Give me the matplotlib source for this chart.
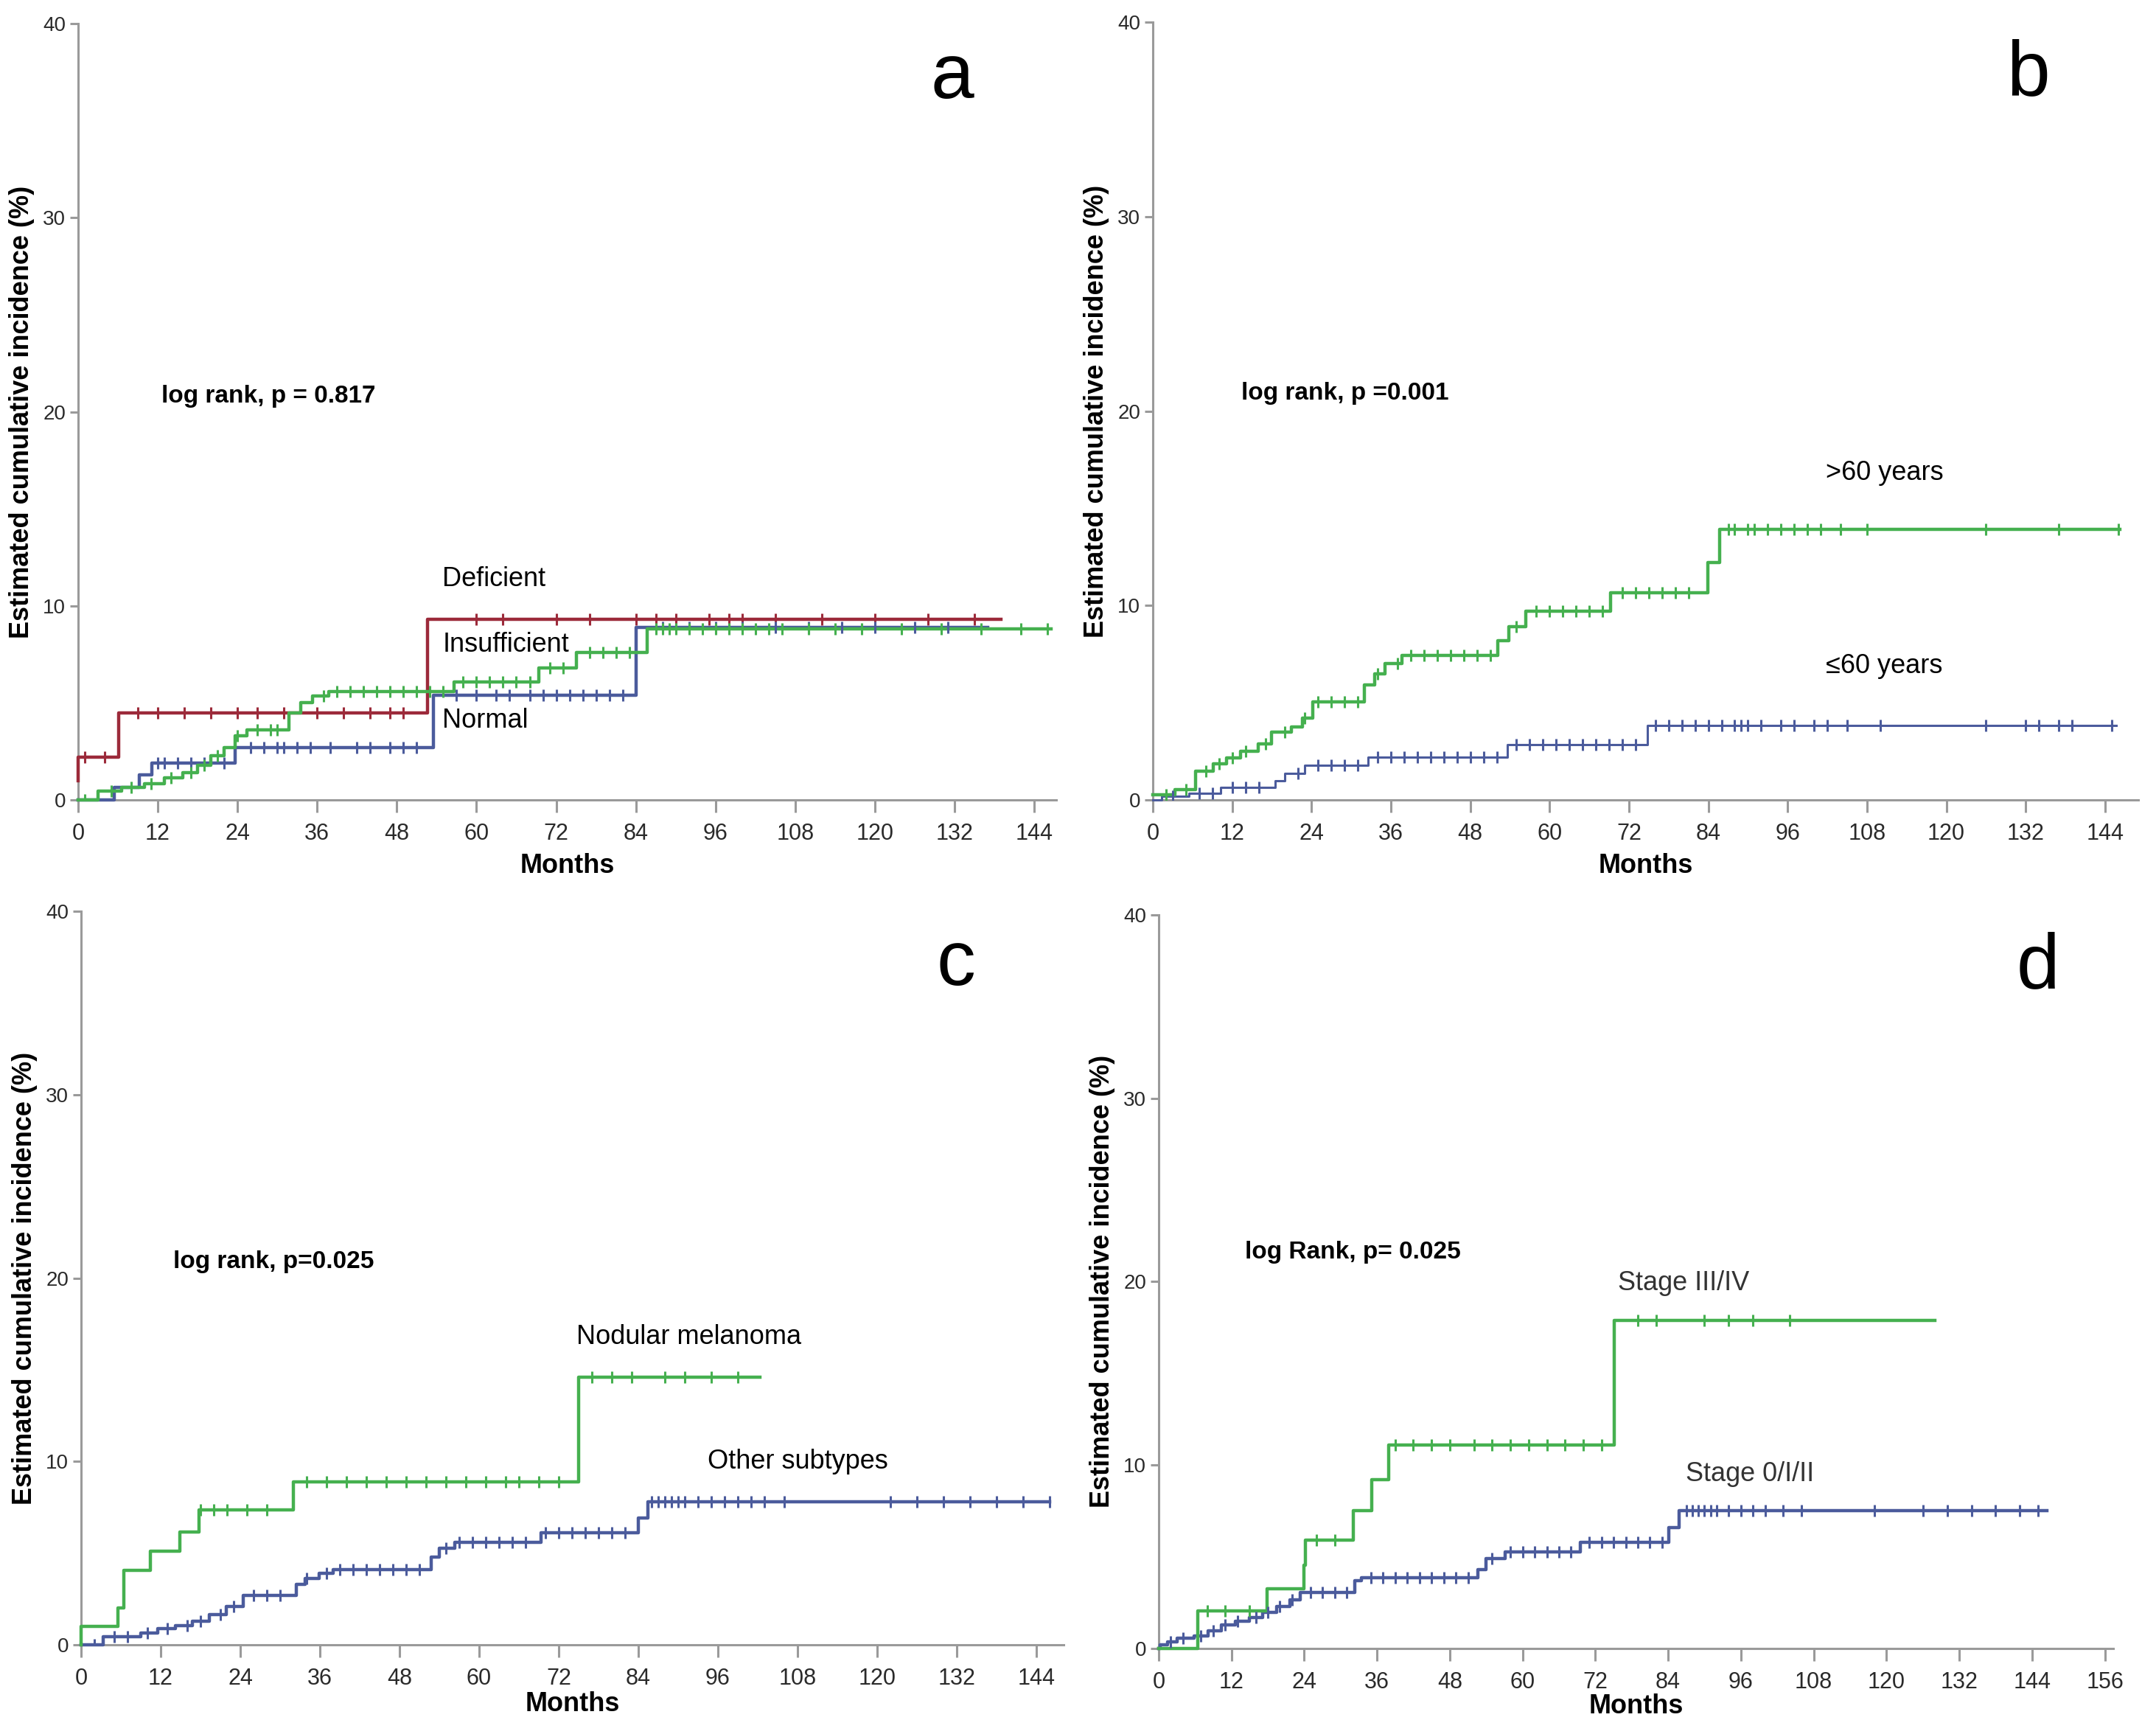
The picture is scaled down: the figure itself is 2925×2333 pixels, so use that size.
import numpy as np
import matplotlib
matplotlib.use("Agg")
from matplotlib import pyplot as plt

plt.rcParams['font.family'] = ['Liberation Sans', 'DejaVu Sans']

RED = '#9c2a3a'
BLUE = '#4b5b9c'
GREEN = '#45b04f'
AXIS_GRAY = '#9a9a9a'

# ---- panel a : vitamin D status ----
a_def_t = [0, 0, 6.1, 52.6]
a_def_y = [1.0, 2.2, 4.5, 9.3]
a_def_end = 139
a_def_cens = [1, 4, 9, 12, 16, 20, 24, 27, 31, 36, 40, 44, 47, 49, 60, 64, 72,
              77, 84, 87, 90, 95, 98, 100, 105, 112, 120, 128, 135]

a_ins_t = [0, 3, 6.6, 10, 13, 15.8, 18, 20, 22, 23.6, 25.4, 31.8, 33.5, 35.3,
           37.8, 56.6, 69.4, 75, 85.7]
a_ins_y = [0, 0.45, 0.65, 0.85, 1.15, 1.4, 1.8, 2.3, 2.7, 3.3, 3.6, 4.5, 5.0,
           5.35, 5.6, 6.1, 6.8, 7.6, 8.8]
a_ins_end = 146.5
a_ins_cens = [1, 5, 8, 11, 14, 17, 19, 21, 24, 27, 29, 30, 37, 39, 41, 43, 45,
              47, 49, 51, 53, 55, 58, 60, 62, 64, 66, 68, 71, 73, 77, 79, 81,
              83, 87, 88, 89, 90, 92, 94, 96, 98, 100, 102, 104, 106, 110, 114,
              118, 124, 130, 136, 142, 146]

a_norm_t = [0, 5.4, 9.2, 11.1, 23.6, 53.5, 84.0]
a_norm_y = [0, 0.65, 1.3, 1.9, 2.7, 5.4, 8.9]
a_norm_end = 137
a_norm_cens = [12, 13, 15, 17, 19, 22, 26, 28, 30, 31, 33, 35, 38, 42, 44, 47,
               49, 51, 57, 60, 63, 65, 68, 70, 72, 74, 76, 78, 80, 82, 88, 92,
               96, 100, 105, 110, 115, 120, 126, 131]

# ---- panel b : age ----
b_old_t = [0, 3.4, 6.5, 9.1, 11.2, 13.3, 15.9, 18, 21, 22.6, 24.2, 32, 33.5,
           35.1, 37.7, 52.2, 53.8, 56.4, 69.2, 83.9, 85.7]
b_old_y = [0.25, 0.55, 1.5, 1.85, 2.15, 2.5, 2.9, 3.5, 3.75, 4.2, 5.05, 5.9,
           6.5, 7.0, 7.45, 8.2, 8.9, 9.7, 10.65, 12.2, 13.9]
b_old_end = 146.2
b_old_cens = [2, 5, 8, 10, 12, 14, 17, 20, 23, 25, 27, 29, 31, 34, 37, 39, 41,
              43, 45, 47, 49, 51, 55, 58, 60, 62, 64, 66, 68, 71, 73, 75, 77,
              79, 81, 87, 88, 90, 91, 93, 95, 97, 99, 101, 104, 108, 126, 137,
              146]

b_young_t = [0, 1.3, 5.5, 10.2, 18.5, 20, 23, 32.5, 53.6, 74.8]
b_young_y = [0, 0.2, 0.35, 0.65, 1.0, 1.35, 1.8, 2.2, 2.85, 3.85]
b_young_end = 145.7
b_young_cens = [3, 7, 9, 12, 14, 16, 22, 25, 27, 29, 31, 34, 36, 38, 40, 42,
                44, 46, 48, 50, 52, 55, 57, 59, 61, 63, 65, 67, 69, 71, 73, 76,
                78, 80, 82, 84, 86, 88, 89, 90, 92, 95, 97, 100, 102, 105, 110,
                126, 132, 134, 137, 139, 145]

# ---- panel c : histologic subtype ----
c_nod_t = [0, 0, 5.6, 6.4, 10.5, 14.9, 17.8, 32, 75]
c_nod_y = [0, 1.0, 2.0, 4.05, 5.1, 6.15, 7.35, 8.9, 14.6]
c_nod_end = 102.3
c_nod_cens = [18, 20, 22, 25, 28, 34, 37, 40, 43, 46, 49, 52, 55, 58, 61, 64,
              66, 69, 72, 77, 80, 83, 88, 91, 95, 99]

c_oth_t = [0, 3.3, 9, 11.6, 14.2, 16.8, 19.3, 21.9, 24.5, 32.5, 33.8, 35.9, 38,
           52.8, 54, 56.3, 69.3, 84, 85.5]
c_oth_y = [0, 0.45, 0.65, 0.9, 1.05, 1.3, 1.65, 2.1, 2.7, 3.3, 3.6, 3.9, 4.1,
           4.8, 5.25, 5.6, 6.1, 6.9, 7.8]
c_oth_end = 146
c_oth_cens = [2, 5, 7, 10, 13, 16, 18, 21, 23, 26, 28, 30, 34, 37, 39, 41, 43,
              45, 47, 49, 51, 55, 57, 59, 61, 63, 65, 67, 70, 72, 74, 76, 78,
              80, 82, 86, 87, 88, 89, 90, 91, 93, 95, 97, 99, 101, 103, 106,
              122, 126, 130, 134, 138, 142, 146]

# ---- panel d : stage ----
d_adv_t = [0, 6.4, 17.9, 23.9, 24.2, 32.1, 35.1, 37.9, 75.1]
d_adv_y = [0, 2.05, 3.25, 4.55, 5.9, 7.5, 9.2, 11.1, 17.9]
d_adv_end = 128
d_adv_cens = [8, 11, 15, 26, 29, 39, 42, 45, 48, 52, 55, 58, 61, 64, 67, 70,
              73, 79, 82, 90, 94, 98, 104]

d_early_t = [0, 0.3, 1.5, 3, 5.9, 8.1, 10.4, 12.6, 14.9, 17.1, 19.4, 21.6,
             23.3, 32.3, 33.4, 52.6, 54, 57.1, 69.5, 84.1, 85.8]
d_early_y = [0, 0.18, 0.35, 0.55, 0.7, 0.95, 1.3, 1.5, 1.7, 1.95, 2.3, 2.65,
             3.05, 3.7, 3.85, 4.3, 4.9, 5.25, 5.8, 6.6, 7.5]
d_early_end = 146.4
d_early_cens = [2, 4, 7, 9, 11, 13, 16, 18, 20, 22, 25, 27, 29, 31, 35, 37,
                39, 41, 43, 45, 47, 49, 51, 55, 58, 60, 62, 64, 66, 68, 71, 73,
                75, 77, 79, 81, 83, 87, 88, 89, 90, 91, 92, 94, 96, 98, 100,
                103, 106, 118, 126, 130, 134, 138, 142, 145]


def draw_curve(ax, times, values, end, censored, color, lw=1.6):
  """Step curve of a cumulative incidence estimate with censoring ticks."""
  t = np.append(times, end)
  y = np.append(values, values[-1])
  ax.step(t, y, where='post', color=color, lw=lw, clip_on=False, zorder=3)
  cens = np.asarray(censored, dtype=float)
  idx = np.searchsorted(np.asarray(times, dtype=float), cens, side='right') - 1
  ax.plot(cens, np.asarray(values)[idx], ls='none', marker='|',
          markersize=6, mew=1.1, color=color, zorder=4)


def style_axes(ax, xmax, xticks, xlabelpad=4):
  ax.set_xlim(0, xmax)
  ax.set_ylim(0, 40)
  ax.set_xticks(xticks)
  ax.set_yticks([0, 10, 20, 30, 40])
  for side in ('top', 'right'):
    ax.spines[side].set_visible(False)
  for side in ('left', 'bottom'):
    ax.spines[side].set_color(AXIS_GRAY)
    ax.spines[side].set_linewidth(1.1)
  ax.tick_params(axis='both', colors=AXIS_GRAY, labelcolor='#2a2a2a',
                 width=1.1)
  ax.tick_params(axis='x', length=6, pad=5, labelsize=11)
  ax.tick_params(axis='y', length=4, pad=2, labelsize=10)
  for lab in ax.get_xticklabels():
    lab.set_family(['Liberation Sans Narrow', 'Liberation Sans'])
  ax.set_xlabel('Months', fontsize=13, fontweight='bold', labelpad=xlabelpad)
  ax.set_ylabel('Estimated cumulative incidence (%)', fontsize=13,
                fontweight='bold', labelpad=4)


fig = plt.figure(figsize=(14.625, 11.665), dpi=200)

ticks144 = list(range(0, 145, 12))
ticks156 = list(range(0, 157, 12))

# panel a
ax = fig.add_axes([0.0362, 0.5349, 0.4537, 0.4513])
style_axes(ax, 147.3, ticks144)
draw_curve(ax, a_def_t, a_def_y, a_def_end, a_def_cens, RED)
draw_curve(ax, a_norm_t, a_norm_y, a_norm_end, a_norm_cens, BLUE)
draw_curve(ax, a_ins_t, a_ins_y, a_ins_end, a_ins_cens, GREEN)
ax.text(12.6, 20.8, 'log rank, p = 0.817', fontsize=12, fontweight='bold',
        va='center')
ax.text(54.9, 11.4, 'Deficient', fontsize=13, va='center')
ax.text(54.9, 8.0, 'Insufficient', fontsize=13, va='center')
ax.text(54.9, 4.1, 'Normal', fontsize=13, va='center')
ax.text(131.6, 37.2, 'a', fontsize=38, ha='center', va='center')

# panel b
ax = fig.add_axes([0.5347, 0.5349, 0.457, 0.4522])
style_axes(ax, 149.0, ticks144)
draw_curve(ax, b_young_t, b_young_y, b_young_end, b_young_cens, BLUE, lw=1.1)
draw_curve(ax, b_old_t, b_old_y, b_old_end, b_old_cens, GREEN)
ax.text(13.4, 20.9, 'log rank, p =0.001', fontsize=12, fontweight='bold',
        va='center')
ax.text(101.8, 16.8, '>60 years', fontsize=13, va='center')
ax.text(101.8, 6.9, '\u226460 years', fontsize=13, va='center')
ax.text(132.4, 37.3, 'b', fontsize=38, ha='center', va='center')

# panel c
ax = fig.add_axes([0.0376, 0.0437, 0.4557, 0.4265])
style_axes(ax, 148.1, ticks144, xlabelpad=1)
draw_curve(ax, c_oth_t, c_oth_y, c_oth_end, c_oth_cens, BLUE)
draw_curve(ax, c_nod_t, c_nod_y, c_nod_end, c_nod_cens, GREEN)
ax.text(13.9, 20.9, 'log rank, p=0.025', fontsize=12, fontweight='bold',
        va='center')
ax.text(74.7, 16.8, 'Nodular melanoma', fontsize=13, va='center')
ax.text(94.4, 10.0, 'Other subtypes', fontsize=13, va='center')
ax.text(131.9, 37.1, 'c', fontsize=38, ha='center', va='center')

# panel d
ax = fig.add_axes([0.5374, 0.0416, 0.4428, 0.4265])
style_axes(ax, 157.4, ticks156, xlabelpad=0)
draw_curve(ax, d_early_t, d_early_y, d_early_end, d_early_cens, BLUE)
draw_curve(ax, d_adv_t, d_adv_y, d_adv_end, d_adv_cens, GREEN)
ax.text(14.2, 21.6, 'log Rank, p= 0.025', fontsize=12, fontweight='bold',
        va='center')
ax.text(75.7, 19.9, 'Stage III/IV', fontsize=13, va='center', color='#333333')
ax.text(86.9, 9.5, 'Stage 0/I/II', fontsize=13, va='center', color='#333333')
ax.text(145.0, 37.1, 'd', fontsize=38, ha='center', va='center')

fig.savefig('out.png', dpi=200)
